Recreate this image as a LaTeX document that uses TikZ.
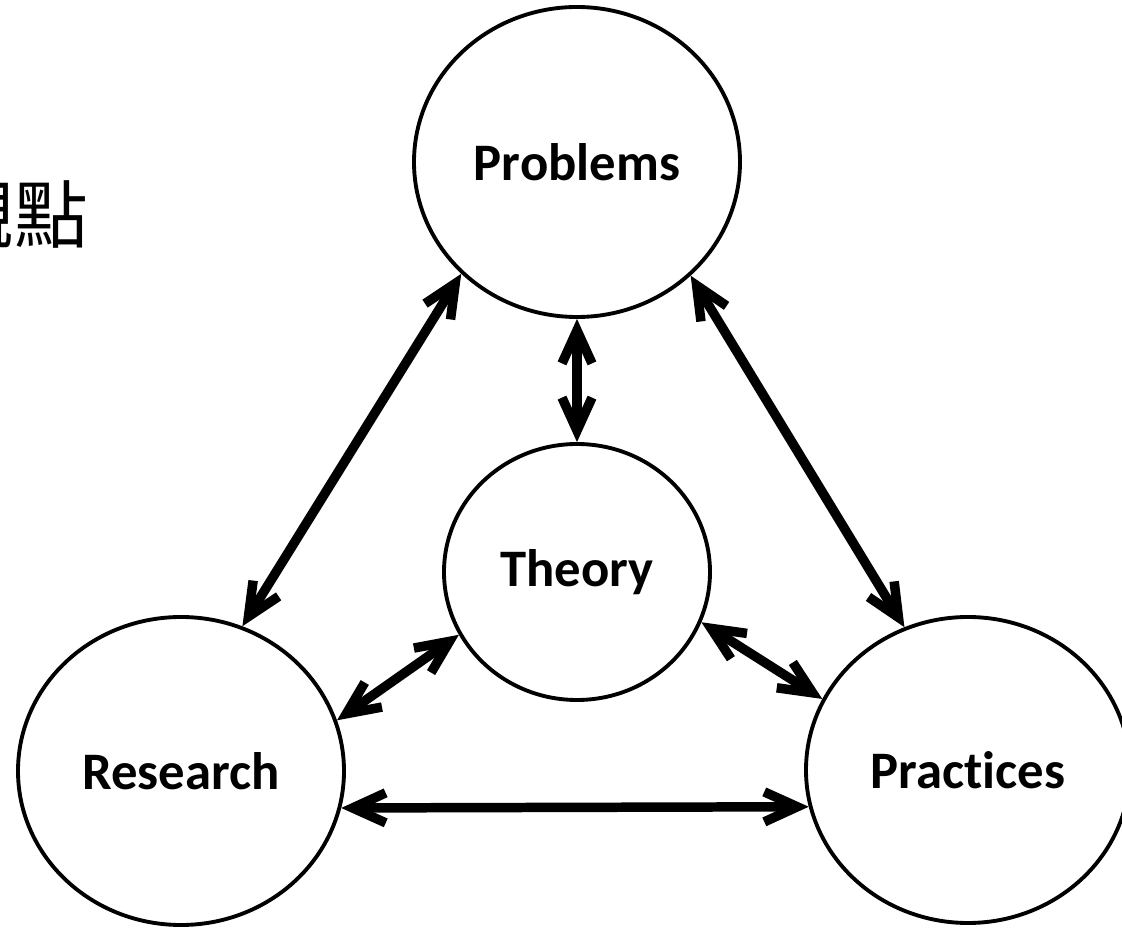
\documentclass[tikz,border=0pt]{standalone}
\usepackage{fontspec}
\setmainfont{Carlito}[Ligatures=NoCommon]
\newfontfamily\cjk{Noto Sans CJK TC}
\usetikzlibrary{shapes.geometric, arrows.meta}

\tikzset{
  bubble/.style={ellipse, draw, line width=1.1pt, inner sep=0pt,
    font=\fontsize{15}{18}\selectfont\bfseries},
  link/.style={line width=2.7pt, line cap=round,
    {Straight Barb[length=3.3mm,width=3mm]}-{Straight Barb[length=3.3mm,width=3mm]}},
}

\begin{document}
\begin{tikzpicture}
    \useasboundingbox (0,0) rectangle (11.22,9.29);
    % the four circles
    \node[bubble, minimum width=3.26cm, minimum height=3.1cm] (problems) at (5.77,7.67) {Problems};
    \node[bubble, minimum width=2.66cm, minimum height=2.56cm] (theory) at (5.77,3.57) {Theory};
    \node[bubble, minimum width=3.26cm, minimum height=3.08cm] (research) at (1.81,1.58) {Research};
    \node[bubble, minimum width=3.24cm, minimum height=3.06cm] (practices) at (9.68,1.59) {Practices};
    \node[anchor=east, inner sep=0pt, font=\cjk\fontsize{21}{21}\selectfont] (title) at (0.89,7.14) {觀點};
    % links
    \draw[link] (problems.224) -- (research.67);
    \draw[link] (problems.-45) -- (practices.114);
    \draw[link] (problems.south) -- (theory.north);
    \draw[link] (theory.208) -- (research.18.5);
    \draw[link] (theory.-22.5) -- (practices.154);
    \draw[link] (research.-13) -- (practices.193);
\end{tikzpicture}
\end{document}
